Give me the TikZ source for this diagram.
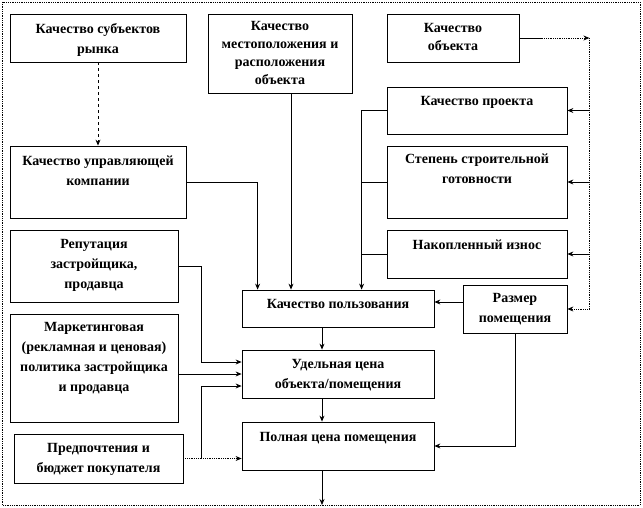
\documentclass[tikz,border=0pt]{standalone}
\usepackage{fontspec}
\setmainfont{Liberation Serif}
\usetikzlibrary{arrows.meta,arrows}

\begin{document}
\begin{tikzpicture}[x=1pt, y=-1pt, >={Stealth[length=6pt,width=5pt]}, line width=0.8pt]
    \tikzstyle{box} = [rectangle, draw, inner sep=0pt]
    \tikzstyle{txt} = [align=center, inner sep=0pt, anchor=north, font=\bfseries\fontsize{14}{20}\selectfont]
    \tikzstyle{link} = [->]

    \useasboundingbox (0,0) rectangle (643,508);
    \draw [densely dotted] (2,2) rectangle (640,505);

    % boxes
    \node [box, minimum width=176pt, minimum height=48pt] (sub) at (98,38) {};
    \node [box, minimum width=144pt, minimum height=79pt] (mesto) at (280,53.5) {};
    \node [box, minimum width=132pt, minimum height=48pt] (obj) at (453,38) {};
    \node [box, minimum width=180pt, minimum height=47pt] (proekt) at (477,110.5) {};
    \node [box, minimum width=180pt, minimum height=72pt] (stepen) at (477,182) {};
    \node [box, minimum width=180pt, minimum height=48pt] (iznos) at (477,254) {};
    \node [box, minimum width=104pt, minimum height=48pt] (razmer) at (515,309) {};
    \node [box, minimum width=176pt, minimum height=72pt] (uprav) at (98,182) {};
    \node [box, minimum width=168pt, minimum height=72pt] (reput) at (94,266) {};
    \node [box, minimum width=168pt, minimum height=108pt] (market) at (94,368) {};
    \node [box, minimum width=169pt, minimum height=49pt] (pref) at (98.5,458.5) {};
    \node [box, minimum width=192pt, minimum height=37pt] (kpolz) at (338,308.5) {};
    \node [box, minimum width=192pt, minimum height=48pt] (udel) at (338,374) {};
    \node [box, minimum width=192pt, minimum height=48pt] (poln) at (338,446) {};

    % texts
    \node [txt] (sub-t) at ([yshift=-9pt]sub.north) {Качество субъектов\\рынка};
    \node [txt, font=\bfseries\fontsize{14}{18}\selectfont] (mesto-t) at ([yshift=-7pt]mesto.north) {Качество\\местоположения и\\расположения\\объекта};
    \node [txt, font=\bfseries\fontsize{14}{18}\selectfont] (obj-t) at ([yshift=-9pt]obj.north) {Качество\\объекта};
    \node [txt] (proekt-t) at ([yshift=-9pt]proekt.north) {Качество проекта};
    \node [txt] (stepen-t) at ([yshift=-8pt]stepen.north) {Степень строительной\\готовности};
    \node [txt] (iznos-t) at ([yshift=-10pt]iznos.north) {Накопленный износ};
    \node [txt] (razmer-t) at ([yshift=-8pt]razmer.north) {Размер\\помещения};
    \node [txt] (uprav-t) at ([yshift=-10pt]uprav.north) {Качество управляющей\\компании};
    \node [txt] (reput-t) at ([yshift=-9pt]reput.north) {Репутация\\застройщика,\\продавца};
    \node [txt] (market-t) at ([yshift=-8pt]market.north) {Маркетинговая\\(рекламная и ценовая)\\политика застройщика\\и продавца};
    \node [txt] (pref-t) at ([yshift=-9pt]pref.north) {Предпочтения и\\бюджет покупателя};
    \node [txt] (kpolz-t) at ([yshift=-9pt]kpolz.north) {Качество пользования};
    \node [txt] (udel-t) at ([yshift=-9pt]udel.north) {Удельная цена\\объекта/помещения};
    \node [txt] (poln-t) at ([yshift=-10pt]poln.north) {Полная цена помещения};

    % helper points
    \coordinate (trunk) at ([xshift=120pt]kpolz.north west);
    \coordinate (rail) at ([xshift=70pt]obj.east);
    \coordinate (bus) at ([xshift=-40pt]udel.west);
    \coordinate (out) at ([xshift=-16pt]poln.south |- 0,505);

    % connectors
    \draw [link, dashed] (sub) -- (uprav);
    \draw [link] (uprav.east) -| ([xshift=16pt]kpolz.north west);
    \draw [link] ([xshift=11pt]mesto.south) -- ([xshift=11pt]mesto.south |- kpolz.north);
    \draw [link] (proekt.west) -| (trunk);
    \draw (stepen.west) -- (stepen.west -| trunk);
    \draw (iznos.west) -- (iznos.west -| trunk);

    \draw (obj.east) -- ++(23,0) coordinate (obj-out);
    \draw [link, densely dotted] (obj-out) -- (rail);
    \draw [densely dotted] (rail) -- (rail |- razmer.east);
    \draw [link, densely dotted] (rail |- razmer.east) -- (razmer.east);
    \draw [link] (rail |- proekt.east) -- (proekt.east);
    \draw [link] (rail |- stepen.east) -- (stepen.east);
    \draw [link] (rail |- iznos.east) -- (iznos.east);

    \draw [link] ([yshift=7pt]razmer.west) -- ([yshift=7pt]razmer.west -| kpolz.east);
    \draw [link] (razmer.south) |- (poln.east);

    \draw [link] ([xshift=-16pt]kpolz.south) -- ([xshift=-16pt]udel.north);
    \draw [link] ([xshift=-16pt]udel.south) -- ([xshift=-16pt]poln.north);
    \draw [link] ([xshift=-16pt]poln.south) -- (out);

    \draw [link] (reput.east) -| ([yshift=12pt]bus) -- ([yshift=12pt]udel.west);
    \draw [link] (market.east |- udel.west) -- (udel.west);
    \draw [link, densely dotted] (pref.east) -- (pref.east -| poln.west);
    \draw [link] (pref.east -| bus) |- ([yshift=-12pt]udel.west);
\end{tikzpicture}
\end{document}
